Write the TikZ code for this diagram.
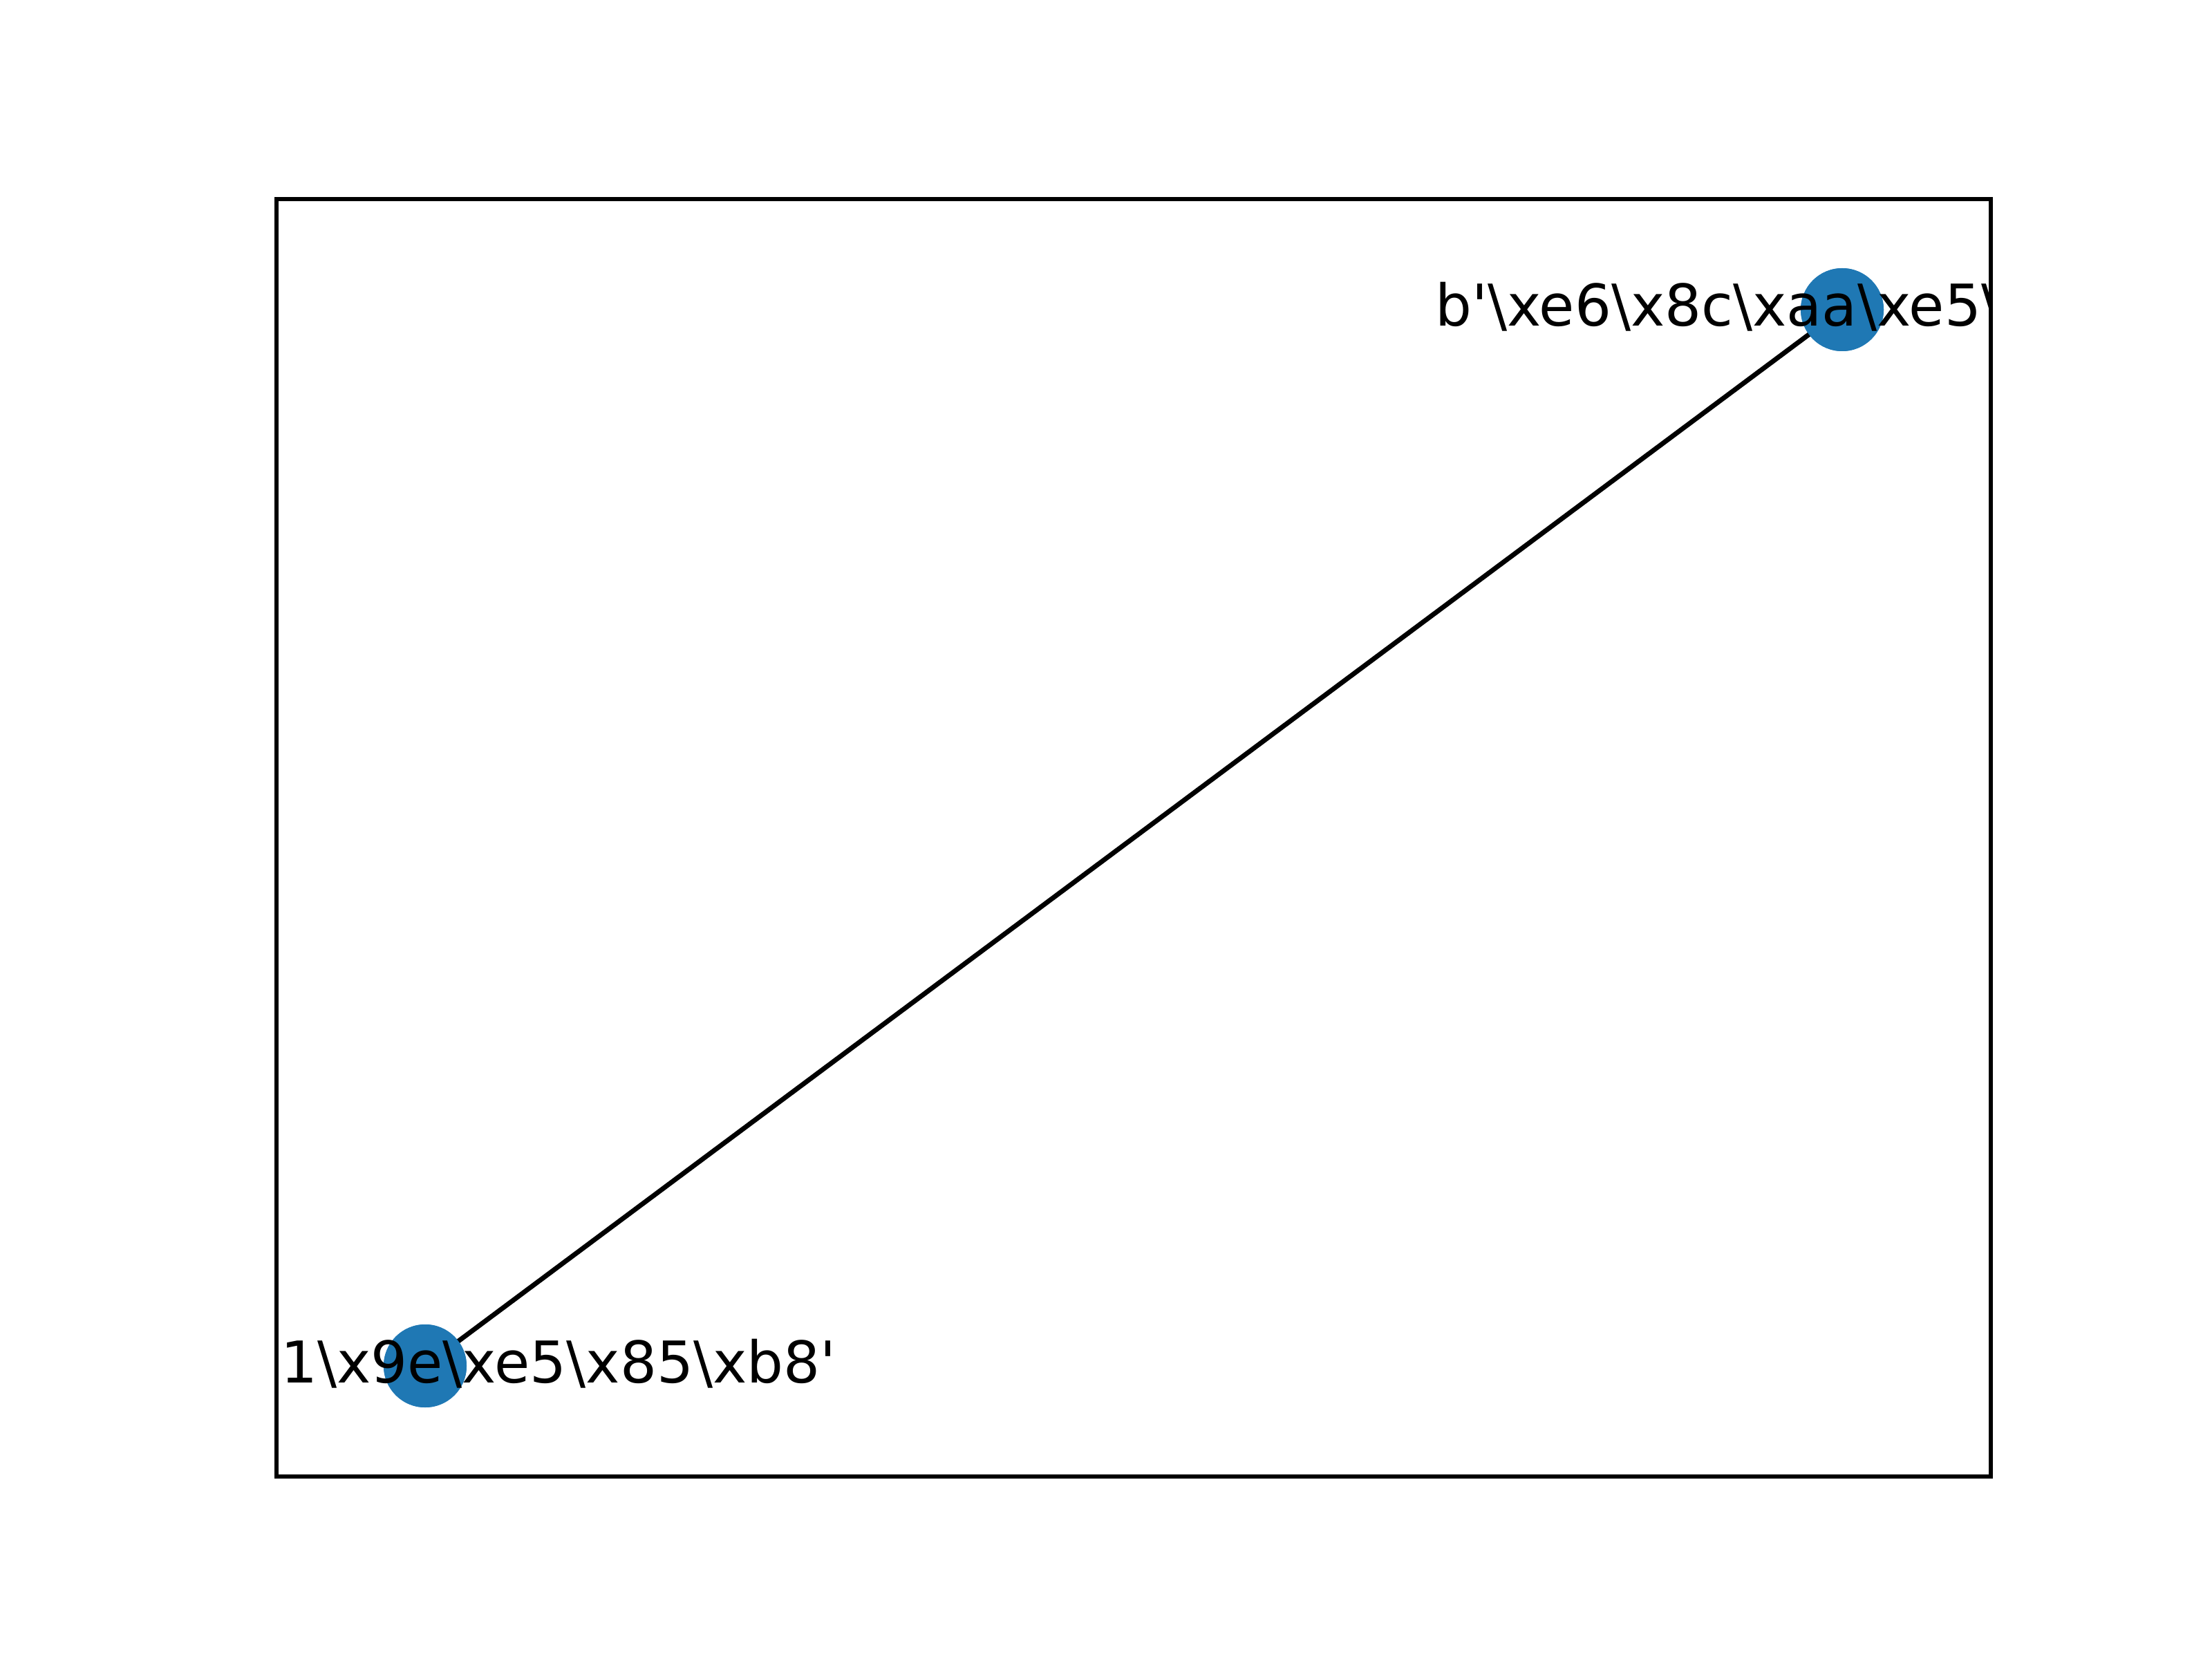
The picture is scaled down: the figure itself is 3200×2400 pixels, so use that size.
\documentclass[tikz,border=0pt]{standalone}
\usepackage{fontspec}
\newfontfamily\mpl{DejaVu Sans}[Ligatures=TeXOff]
\definecolor{nodeblue}{HTML}{1F78B4}
\newcommand\bs{\textbackslash}
\begin{document}
\begin{tikzpicture}[x=0.144pt,y=-0.144pt,
  gnode/.style={circle,fill=nodeblue,draw=none,minimum size=17.28pt,inner sep=0pt},
  glabel/.style={anchor=base,inner sep=0pt,font=\mpl\fontsize{12}{14}\selectfont},
  gedge/.style={line width=1pt,black},
  frame/.style={line width=0.8pt,black}]
\useasboundingbox (0,0) rectangle (3200,2400);
\begin{scope}
  \clip (400,288) rectangle (2880,2136);
  \node[gnode] (no) at (2665,448) {};
  \node[gnode] (se) at (615,1976) {};
  \begin{scope}[on background layer/.try]
  \end{scope}
  \draw[gedge] (se.center) -- (no.center);
  \node[gnode] at (no) {};
  \node[gnode] at (se) {};
  \node[glabel] (lno) at (2665,472) {b'\bs xe6\bs x8c\bs xaa\bs xe5\bs xa8\bs x81'};
  \node[glabel] (lse) at (615,2000) {b'\bs xe7\bs x91\bs x9e\bs xe5\bs x85\bs xb8'};
\end{scope}
\draw[frame] (400,288) rectangle (2880,2136);
\end{tikzpicture}
\end{document}
